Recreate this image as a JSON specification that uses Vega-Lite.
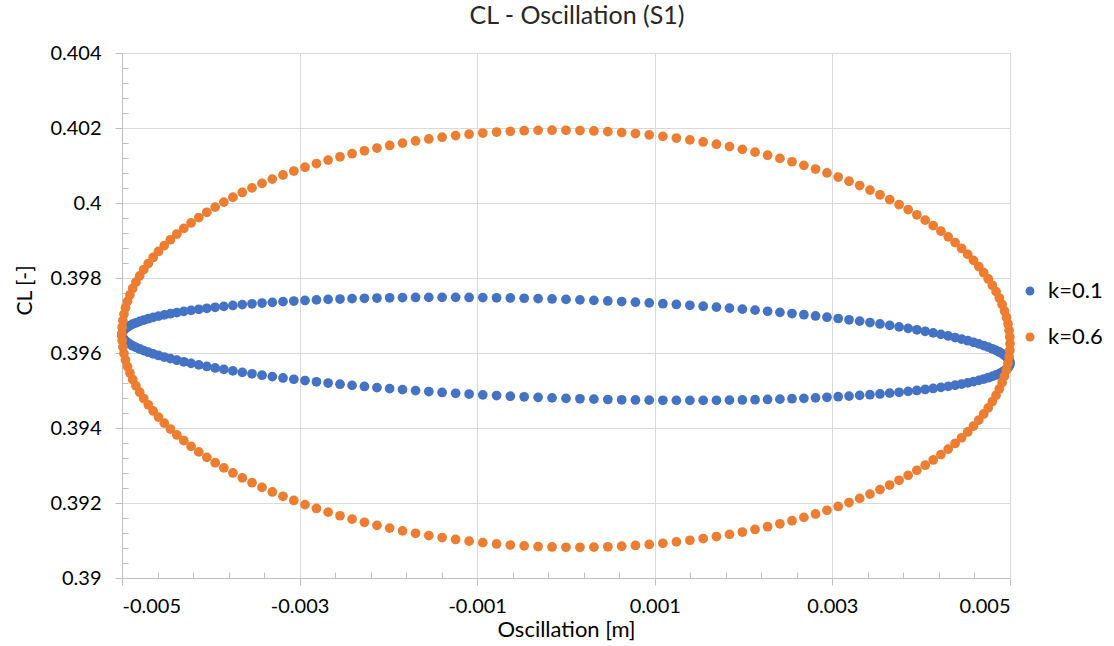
{
"$schema": "https://vega.github.io/schema/vega-lite/v6.json",
"width": 888, "height": 525,
"autosize": "none",
"padding": {"left": 122, "top": 53, "right": 104, "bottom": 68},
"background": "white",
"config": {"font": "Lato", "view": {"stroke": null}},
"title": {"text": "CL - Oscillation (S1)", "fontSize": 25, "fontWeight": "normal", "color": "#262626", "anchor": "middle", "offset": 14, "dx": 11},
"datasets": {
"minor": [{"x": -0.005, "y": 0.39}, {"x": 0.005, "y": 0.404}],
"pts": [
{"k":"k=0.1","x":0.005,"y":0.39573},{"k":"k=0.1","x":0.004998,"y":0.395771},{"k":"k=0.1","x":0.00499,"y":0.395814},{"k":"k=0.1","x":0.004978,"y":0.395856},{"k":"k=0.1","x":0.004961,"y":0.395898},{"k":"k=0.1","x":0.004938,"y":0.395941},{"k":"k=0.1","x":0.004911,"y":0.395984},{"k":"k=0.1","x":0.00488,"y":0.396027},{"k":"k=0.1","x":0.004843,"y":0.39607},{"k":"k=0.1","x":0.004801,"y":0.396113},{"k":"k=0.1","x":0.004755,"y":0.396157},{"k":"k=0.1","x":0.004704,"y":0.396199},{"k":"k=0.1","x":0.004649,"y":0.396243},{"k":"k=0.1","x":0.004589,"y":0.396285},{"k":"k=0.1","x":0.004524,"y":0.396328},{"k":"k=0.1","x":0.004455,"y":0.39637},{"k":"k=0.1","x":0.004382,"y":0.396413},{"k":"k=0.1","x":0.004304,"y":0.396455},{"k":"k=0.1","x":0.004222,"y":0.396496},{"k":"k=0.1","x":0.004135,"y":0.396538},{"k":"k=0.1","x":0.004045,"y":0.396579},{"k":"k=0.1","x":0.003951,"y":0.396619},{"k":"k=0.1","x":0.003853,"y":0.396658},{"k":"k=0.1","x":0.003751,"y":0.396698},{"k":"k=0.1","x":0.003645,"y":0.396737},{"k":"k=0.1","x":0.003536,"y":0.396774},{"k":"k=0.1","x":0.003423,"y":0.396812},{"k":"k=0.1","x":0.003307,"y":0.396849},{"k":"k=0.1","x":0.003187,"y":0.396885},{"k":"k=0.1","x":0.003065,"y":0.39692},{"k":"k=0.1","x":0.002939,"y":0.396955},{"k":"k=0.1","x":0.00281,"y":0.396988},{"k":"k=0.1","x":0.002679,"y":0.397021},{"k":"k=0.1","x":0.002545,"y":0.397053},{"k":"k=0.1","x":0.002409,"y":0.397084},{"k":"k=0.1","x":0.00227,"y":0.397113},{"k":"k=0.1","x":0.002129,"y":0.397142},{"k":"k=0.1","x":0.001986,"y":0.39717},{"k":"k=0.1","x":0.001841,"y":0.397197},{"k":"k=0.1","x":0.001694,"y":0.397223},{"k":"k=0.1","x":0.001545,"y":0.397248},{"k":"k=0.1","x":0.001395,"y":0.397272},{"k":"k=0.1","x":0.001243,"y":0.397294},{"k":"k=0.1","x":0.001091,"y":0.397315},{"k":"k=0.1","x":0.000937,"y":0.397336},{"k":"k=0.1","x":0.000782,"y":0.397355},{"k":"k=0.1","x":0.000627,"y":0.397372},{"k":"k=0.1","x":0.000471,"y":0.397388},{"k":"k=0.1","x":0.000314,"y":0.397403},{"k":"k=0.1","x":0.000157,"y":0.397417},{"k":"k=0.1","x":0,"y":0.39743},
{"k":"k=0.1","x":-0.000157,"y":0.397441},{"k":"k=0.1","x":-0.000314,"y":0.397451},{"k":"k=0.1","x":-0.000471,"y":0.39746},{"k":"k=0.1","x":-0.000627,"y":0.397468},{"k":"k=0.1","x":-0.000782,"y":0.397473},{"k":"k=0.1","x":-0.000937,"y":0.397478},{"k":"k=0.1","x":-0.001091,"y":0.397481},{"k":"k=0.1","x":-0.001243,"y":0.397484},{"k":"k=0.1","x":-0.001395,"y":0.397484},{"k":"k=0.1","x":-0.001545,"y":0.397482},{"k":"k=0.1","x":-0.001694,"y":0.397481},{"k":"k=0.1","x":-0.001841,"y":0.397477},{"k":"k=0.1","x":-0.001986,"y":0.397472},{"k":"k=0.1","x":-0.002129,"y":0.397466},{"k":"k=0.1","x":-0.00227,"y":0.397459},{"k":"k=0.1","x":-0.002409,"y":0.39745},{"k":"k=0.1","x":-0.002545,"y":0.397439},{"k":"k=0.1","x":-0.002679,"y":0.397429},{"k":"k=0.1","x":-0.00281,"y":0.397416},{"k":"k=0.1","x":-0.002939,"y":0.397401},{"k":"k=0.1","x":-0.003065,"y":0.397386},{"k":"k=0.1","x":-0.003187,"y":0.397369},{"k":"k=0.1","x":-0.003307,"y":0.397351},{"k":"k=0.1","x":-0.003423,"y":0.397332},{"k":"k=0.1","x":-0.003536,"y":0.397312},{"k":"k=0.1","x":-0.003645,"y":0.397291},{"k":"k=0.1","x":-0.003751,"y":0.397268},{"k":"k=0.1","x":-0.003853,"y":0.397244},{"k":"k=0.1","x":-0.003951,"y":0.397219},{"k":"k=0.1","x":-0.004045,"y":0.397193},{"k":"k=0.1","x":-0.004135,"y":0.397166},{"k":"k=0.1","x":-0.004222,"y":0.397138},{"k":"k=0.1","x":-0.004304,"y":0.397109},{"k":"k=0.1","x":-0.004382,"y":0.397079},{"k":"k=0.1","x":-0.004455,"y":0.397048},{"k":"k=0.1","x":-0.004524,"y":0.397016},{"k":"k=0.1","x":-0.004589,"y":0.396983},{"k":"k=0.1","x":-0.004649,"y":0.396949},{"k":"k=0.1","x":-0.004704,"y":0.396915},{"k":"k=0.1","x":-0.004755,"y":0.396879},{"k":"k=0.1","x":-0.004801,"y":0.396843},{"k":"k=0.1","x":-0.004843,"y":0.396806},{"k":"k=0.1","x":-0.00488,"y":0.396769},{"k":"k=0.1","x":-0.004911,"y":0.39673},{"k":"k=0.1","x":-0.004938,"y":0.396691},{"k":"k=0.1","x":-0.004961,"y":0.396652},{"k":"k=0.1","x":-0.004978,"y":0.396612},{"k":"k=0.1","x":-0.00499,"y":0.396572},{"k":"k=0.1","x":-0.004998,"y":0.396531},{"k":"k=0.1","x":-0.005,"y":0.39649},
{"k":"k=0.1","x":-0.004998,"y":0.396449},{"k":"k=0.1","x":-0.00499,"y":0.396406},{"k":"k=0.1","x":-0.004978,"y":0.396364},{"k":"k=0.1","x":-0.004961,"y":0.396322},{"k":"k=0.1","x":-0.004938,"y":0.396279},{"k":"k=0.1","x":-0.004911,"y":0.396236},{"k":"k=0.1","x":-0.00488,"y":0.396193},{"k":"k=0.1","x":-0.004843,"y":0.39615},{"k":"k=0.1","x":-0.004801,"y":0.396107},{"k":"k=0.1","x":-0.004755,"y":0.396063},{"k":"k=0.1","x":-0.004704,"y":0.396021},{"k":"k=0.1","x":-0.004649,"y":0.395977},{"k":"k=0.1","x":-0.004589,"y":0.395935},{"k":"k=0.1","x":-0.004524,"y":0.395892},{"k":"k=0.1","x":-0.004455,"y":0.39585},{"k":"k=0.1","x":-0.004382,"y":0.395807},{"k":"k=0.1","x":-0.004304,"y":0.395765},{"k":"k=0.1","x":-0.004222,"y":0.395724},{"k":"k=0.1","x":-0.004135,"y":0.395682},{"k":"k=0.1","x":-0.004045,"y":0.395641},{"k":"k=0.1","x":-0.003951,"y":0.395601},{"k":"k=0.1","x":-0.003853,"y":0.395562},{"k":"k=0.1","x":-0.003751,"y":0.395522},{"k":"k=0.1","x":-0.003645,"y":0.395483},{"k":"k=0.1","x":-0.003536,"y":0.395446},{"k":"k=0.1","x":-0.003423,"y":0.395408},{"k":"k=0.1","x":-0.003307,"y":0.395371},{"k":"k=0.1","x":-0.003187,"y":0.395335},{"k":"k=0.1","x":-0.003065,"y":0.3953},{"k":"k=0.1","x":-0.002939,"y":0.395265},{"k":"k=0.1","x":-0.00281,"y":0.395232},{"k":"k=0.1","x":-0.002679,"y":0.395199},{"k":"k=0.1","x":-0.002545,"y":0.395167},{"k":"k=0.1","x":-0.002409,"y":0.395136},{"k":"k=0.1","x":-0.00227,"y":0.395107},{"k":"k=0.1","x":-0.002129,"y":0.395078},{"k":"k=0.1","x":-0.001986,"y":0.39505},{"k":"k=0.1","x":-0.001841,"y":0.395023},{"k":"k=0.1","x":-0.001694,"y":0.394997},{"k":"k=0.1","x":-0.001545,"y":0.394972},{"k":"k=0.1","x":-0.001395,"y":0.394948},{"k":"k=0.1","x":-0.001243,"y":0.394926},{"k":"k=0.1","x":-0.001091,"y":0.394905},{"k":"k=0.1","x":-0.000937,"y":0.394884},{"k":"k=0.1","x":-0.000782,"y":0.394865},{"k":"k=0.1","x":-0.000627,"y":0.394848},{"k":"k=0.1","x":-0.000471,"y":0.394832},{"k":"k=0.1","x":-0.000314,"y":0.394817},{"k":"k=0.1","x":-0.000157,"y":0.394803},{"k":"k=0.1","x":0,"y":0.39479},
{"k":"k=0.1","x":0.000157,"y":0.394779},{"k":"k=0.1","x":0.000314,"y":0.394769},{"k":"k=0.1","x":0.000471,"y":0.39476},{"k":"k=0.1","x":0.000627,"y":0.394752},{"k":"k=0.1","x":0.000782,"y":0.394747},{"k":"k=0.1","x":0.000937,"y":0.394742},{"k":"k=0.1","x":0.001091,"y":0.394739},{"k":"k=0.1","x":0.001243,"y":0.394736},{"k":"k=0.1","x":0.001395,"y":0.394736},{"k":"k=0.1","x":0.001545,"y":0.394738},{"k":"k=0.1","x":0.001694,"y":0.394739},{"k":"k=0.1","x":0.001841,"y":0.394743},{"k":"k=0.1","x":0.001986,"y":0.394748},{"k":"k=0.1","x":0.002129,"y":0.394754},{"k":"k=0.1","x":0.00227,"y":0.394761},{"k":"k=0.1","x":0.002409,"y":0.39477},{"k":"k=0.1","x":0.002545,"y":0.394781},{"k":"k=0.1","x":0.002679,"y":0.394791},{"k":"k=0.1","x":0.00281,"y":0.394804},{"k":"k=0.1","x":0.002939,"y":0.394819},{"k":"k=0.1","x":0.003065,"y":0.394834},{"k":"k=0.1","x":0.003187,"y":0.394851},{"k":"k=0.1","x":0.003307,"y":0.394869},{"k":"k=0.1","x":0.003423,"y":0.394888},{"k":"k=0.1","x":0.003536,"y":0.394908},{"k":"k=0.1","x":0.003645,"y":0.394929},{"k":"k=0.1","x":0.003751,"y":0.394952},{"k":"k=0.1","x":0.003853,"y":0.394976},{"k":"k=0.1","x":0.003951,"y":0.395001},{"k":"k=0.1","x":0.004045,"y":0.395027},{"k":"k=0.1","x":0.004135,"y":0.395054},{"k":"k=0.1","x":0.004222,"y":0.395082},{"k":"k=0.1","x":0.004304,"y":0.395111},{"k":"k=0.1","x":0.004382,"y":0.395141},{"k":"k=0.1","x":0.004455,"y":0.395172},{"k":"k=0.1","x":0.004524,"y":0.395204},{"k":"k=0.1","x":0.004589,"y":0.395237},{"k":"k=0.1","x":0.004649,"y":0.395271},{"k":"k=0.1","x":0.004704,"y":0.395305},{"k":"k=0.1","x":0.004755,"y":0.395341},{"k":"k=0.1","x":0.004801,"y":0.395377},{"k":"k=0.1","x":0.004843,"y":0.395414},{"k":"k=0.1","x":0.00488,"y":0.395451},{"k":"k=0.1","x":0.004911,"y":0.39549},{"k":"k=0.1","x":0.004938,"y":0.395529},{"k":"k=0.1","x":0.004961,"y":0.395568},{"k":"k=0.1","x":0.004978,"y":0.395608},{"k":"k=0.1","x":0.00499,"y":0.395648},{"k":"k=0.1","x":0.004998,"y":0.395689},
{"k":"k=0.6","x":0.005,"y":0.39625},{"k":"k=0.6","x":0.004998,"y":0.396425},{"k":"k=0.6","x":0.00499,"y":0.396599},{"k":"k=0.6","x":0.004978,"y":0.396774},{"k":"k=0.6","x":0.004961,"y":0.396948},{"k":"k=0.6","x":0.004938,"y":0.397122},{"k":"k=0.6","x":0.004911,"y":0.397294},{"k":"k=0.6","x":0.00488,"y":0.397466},{"k":"k=0.6","x":0.004843,"y":0.397637},{"k":"k=0.6","x":0.004801,"y":0.397806},{"k":"k=0.6","x":0.004755,"y":0.397974},{"k":"k=0.6","x":0.004704,"y":0.398141},{"k":"k=0.6","x":0.004649,"y":0.398306},{"k":"k=0.6","x":0.004589,"y":0.398469},{"k":"k=0.6","x":0.004524,"y":0.398629},{"k":"k=0.6","x":0.004455,"y":0.398788},{"k":"k=0.6","x":0.004382,"y":0.398945},{"k":"k=0.6","x":0.004304,"y":0.399098},{"k":"k=0.6","x":0.004222,"y":0.399249},{"k":"k=0.6","x":0.004135,"y":0.399397},{"k":"k=0.6","x":0.004045,"y":0.399543},{"k":"k=0.6","x":0.003951,"y":0.399685},{"k":"k=0.6","x":0.003853,"y":0.399824},{"k":"k=0.6","x":0.003751,"y":0.399959},{"k":"k=0.6","x":0.003645,"y":0.400091},{"k":"k=0.6","x":0.003536,"y":0.400219},{"k":"k=0.6","x":0.003423,"y":0.400344},{"k":"k=0.6","x":0.003307,"y":0.400465},{"k":"k=0.6","x":0.003187,"y":0.400581},{"k":"k=0.6","x":0.003065,"y":0.400693},{"k":"k=0.6","x":0.002939,"y":0.400802},{"k":"k=0.6","x":0.00281,"y":0.400906},{"k":"k=0.6","x":0.002679,"y":0.401004},{"k":"k=0.6","x":0.002545,"y":0.4011},{"k":"k=0.6","x":0.002409,"y":0.401189},{"k":"k=0.6","x":0.00227,"y":0.401275},{"k":"k=0.6","x":0.002129,"y":0.401356},{"k":"k=0.6","x":0.001986,"y":0.401431},{"k":"k=0.6","x":0.001841,"y":0.401502},{"k":"k=0.6","x":0.001694,"y":0.401567},{"k":"k=0.6","x":0.001545,"y":0.401628},{"k":"k=0.6","x":0.001395,"y":0.401683},{"k":"k=0.6","x":0.001243,"y":0.401733},{"k":"k=0.6","x":0.001091,"y":0.401778},{"k":"k=0.6","x":0.000937,"y":0.401818},{"k":"k=0.6","x":0.000782,"y":0.401852},{"k":"k=0.6","x":0.000627,"y":0.40188},{"k":"k=0.6","x":0.000471,"y":0.401903},{"k":"k=0.6","x":0.000314,"y":0.401921},{"k":"k=0.6","x":0.000157,"y":0.401933},{"k":"k=0.6","x":0,"y":0.40194},
{"k":"k=0.6","x":-0.000157,"y":0.401941},{"k":"k=0.6","x":-0.000314,"y":0.401937},{"k":"k=0.6","x":-0.000471,"y":0.401927},{"k":"k=0.6","x":-0.000627,"y":0.401912},{"k":"k=0.6","x":-0.000782,"y":0.401892},{"k":"k=0.6","x":-0.000937,"y":0.401866},{"k":"k=0.6","x":-0.001091,"y":0.401834},{"k":"k=0.6","x":-0.001243,"y":0.401797},{"k":"k=0.6","x":-0.001395,"y":0.401755},{"k":"k=0.6","x":-0.001545,"y":0.401708},{"k":"k=0.6","x":-0.001694,"y":0.401655},{"k":"k=0.6","x":-0.001841,"y":0.401598},{"k":"k=0.6","x":-0.001986,"y":0.401535},{"k":"k=0.6","x":-0.002129,"y":0.401466},{"k":"k=0.6","x":-0.00227,"y":0.401393},{"k":"k=0.6","x":-0.002409,"y":0.401315},{"k":"k=0.6","x":-0.002545,"y":0.401232},{"k":"k=0.6","x":-0.002679,"y":0.401144},{"k":"k=0.6","x":-0.00281,"y":0.401052},{"k":"k=0.6","x":-0.002939,"y":0.400954},{"k":"k=0.6","x":-0.003065,"y":0.400853},{"k":"k=0.6","x":-0.003187,"y":0.400747},{"k":"k=0.6","x":-0.003307,"y":0.400637},{"k":"k=0.6","x":-0.003423,"y":0.400522},{"k":"k=0.6","x":-0.003536,"y":0.400403},{"k":"k=0.6","x":-0.003645,"y":0.400281},{"k":"k=0.6","x":-0.003751,"y":0.400155},{"k":"k=0.6","x":-0.003853,"y":0.400024},{"k":"k=0.6","x":-0.003951,"y":0.399891},{"k":"k=0.6","x":-0.004045,"y":0.399753},{"k":"k=0.6","x":-0.004135,"y":0.399613},{"k":"k=0.6","x":-0.004222,"y":0.399469},{"k":"k=0.6","x":-0.004304,"y":0.399322},{"k":"k=0.6","x":-0.004382,"y":0.399173},{"k":"k=0.6","x":-0.004455,"y":0.39902},{"k":"k=0.6","x":-0.004524,"y":0.398865},{"k":"k=0.6","x":-0.004589,"y":0.398707},{"k":"k=0.6","x":-0.004649,"y":0.398548},{"k":"k=0.6","x":-0.004704,"y":0.398385},{"k":"k=0.6","x":-0.004755,"y":0.398222},{"k":"k=0.6","x":-0.004801,"y":0.398056},{"k":"k=0.6","x":-0.004843,"y":0.397889},{"k":"k=0.6","x":-0.00488,"y":0.39772},{"k":"k=0.6","x":-0.004911,"y":0.39755},{"k":"k=0.6","x":-0.004938,"y":0.397378},{"k":"k=0.6","x":-0.004961,"y":0.397206},{"k":"k=0.6","x":-0.004978,"y":0.397032},{"k":"k=0.6","x":-0.00499,"y":0.396859},{"k":"k=0.6","x":-0.004998,"y":0.396685},{"k":"k=0.6","x":-0.005,"y":0.39651},
{"k":"k=0.6","x":-0.004998,"y":0.396335},{"k":"k=0.6","x":-0.00499,"y":0.396161},{"k":"k=0.6","x":-0.004978,"y":0.395986},{"k":"k=0.6","x":-0.004961,"y":0.395812},{"k":"k=0.6","x":-0.004938,"y":0.395638},{"k":"k=0.6","x":-0.004911,"y":0.395466},{"k":"k=0.6","x":-0.00488,"y":0.395294},{"k":"k=0.6","x":-0.004843,"y":0.395123},{"k":"k=0.6","x":-0.004801,"y":0.394954},{"k":"k=0.6","x":-0.004755,"y":0.394786},{"k":"k=0.6","x":-0.004704,"y":0.394619},{"k":"k=0.6","x":-0.004649,"y":0.394454},{"k":"k=0.6","x":-0.004589,"y":0.394291},{"k":"k=0.6","x":-0.004524,"y":0.394131},{"k":"k=0.6","x":-0.004455,"y":0.393972},{"k":"k=0.6","x":-0.004382,"y":0.393815},{"k":"k=0.6","x":-0.004304,"y":0.393662},{"k":"k=0.6","x":-0.004222,"y":0.393511},{"k":"k=0.6","x":-0.004135,"y":0.393363},{"k":"k=0.6","x":-0.004045,"y":0.393217},{"k":"k=0.6","x":-0.003951,"y":0.393075},{"k":"k=0.6","x":-0.003853,"y":0.392936},{"k":"k=0.6","x":-0.003751,"y":0.392801},{"k":"k=0.6","x":-0.003645,"y":0.392669},{"k":"k=0.6","x":-0.003536,"y":0.392541},{"k":"k=0.6","x":-0.003423,"y":0.392416},{"k":"k=0.6","x":-0.003307,"y":0.392295},{"k":"k=0.6","x":-0.003187,"y":0.392179},{"k":"k=0.6","x":-0.003065,"y":0.392067},{"k":"k=0.6","x":-0.002939,"y":0.391958},{"k":"k=0.6","x":-0.00281,"y":0.391854},{"k":"k=0.6","x":-0.002679,"y":0.391756},{"k":"k=0.6","x":-0.002545,"y":0.39166},{"k":"k=0.6","x":-0.002409,"y":0.391571},{"k":"k=0.6","x":-0.00227,"y":0.391485},{"k":"k=0.6","x":-0.002129,"y":0.391404},{"k":"k=0.6","x":-0.001986,"y":0.391329},{"k":"k=0.6","x":-0.001841,"y":0.391258},{"k":"k=0.6","x":-0.001694,"y":0.391193},{"k":"k=0.6","x":-0.001545,"y":0.391132},{"k":"k=0.6","x":-0.001395,"y":0.391077},{"k":"k=0.6","x":-0.001243,"y":0.391027},{"k":"k=0.6","x":-0.001091,"y":0.390982},{"k":"k=0.6","x":-0.000937,"y":0.390942},{"k":"k=0.6","x":-0.000782,"y":0.390908},{"k":"k=0.6","x":-0.000627,"y":0.39088},{"k":"k=0.6","x":-0.000471,"y":0.390857},{"k":"k=0.6","x":-0.000314,"y":0.390839},{"k":"k=0.6","x":-0.000157,"y":0.390827},{"k":"k=0.6","x":0,"y":0.39082},
{"k":"k=0.6","x":0.000157,"y":0.390819},{"k":"k=0.6","x":0.000314,"y":0.390823},{"k":"k=0.6","x":0.000471,"y":0.390833},{"k":"k=0.6","x":0.000627,"y":0.390848},{"k":"k=0.6","x":0.000782,"y":0.390868},{"k":"k=0.6","x":0.000937,"y":0.390894},{"k":"k=0.6","x":0.001091,"y":0.390926},{"k":"k=0.6","x":0.001243,"y":0.390963},{"k":"k=0.6","x":0.001395,"y":0.391005},{"k":"k=0.6","x":0.001545,"y":0.391052},{"k":"k=0.6","x":0.001694,"y":0.391105},{"k":"k=0.6","x":0.001841,"y":0.391162},{"k":"k=0.6","x":0.001986,"y":0.391225},{"k":"k=0.6","x":0.002129,"y":0.391294},{"k":"k=0.6","x":0.00227,"y":0.391367},{"k":"k=0.6","x":0.002409,"y":0.391445},{"k":"k=0.6","x":0.002545,"y":0.391528},{"k":"k=0.6","x":0.002679,"y":0.391616},{"k":"k=0.6","x":0.00281,"y":0.391708},{"k":"k=0.6","x":0.002939,"y":0.391806},{"k":"k=0.6","x":0.003065,"y":0.391907},{"k":"k=0.6","x":0.003187,"y":0.392013},{"k":"k=0.6","x":0.003307,"y":0.392123},{"k":"k=0.6","x":0.003423,"y":0.392238},{"k":"k=0.6","x":0.003536,"y":0.392357},{"k":"k=0.6","x":0.003645,"y":0.392479},{"k":"k=0.6","x":0.003751,"y":0.392605},{"k":"k=0.6","x":0.003853,"y":0.392736},{"k":"k=0.6","x":0.003951,"y":0.392869},{"k":"k=0.6","x":0.004045,"y":0.393007},{"k":"k=0.6","x":0.004135,"y":0.393147},{"k":"k=0.6","x":0.004222,"y":0.393291},{"k":"k=0.6","x":0.004304,"y":0.393438},{"k":"k=0.6","x":0.004382,"y":0.393587},{"k":"k=0.6","x":0.004455,"y":0.39374},{"k":"k=0.6","x":0.004524,"y":0.393895},{"k":"k=0.6","x":0.004589,"y":0.394053},{"k":"k=0.6","x":0.004649,"y":0.394212},{"k":"k=0.6","x":0.004704,"y":0.394375},{"k":"k=0.6","x":0.004755,"y":0.394538},{"k":"k=0.6","x":0.004801,"y":0.394704},{"k":"k=0.6","x":0.004843,"y":0.394871},{"k":"k=0.6","x":0.00488,"y":0.39504},{"k":"k=0.6","x":0.004911,"y":0.39521},{"k":"k=0.6","x":0.004938,"y":0.395382},{"k":"k=0.6","x":0.004961,"y":0.395554},{"k":"k=0.6","x":0.004978,"y":0.395728},{"k":"k=0.6","x":0.00499,"y":0.395901},{"k":"k=0.6","x":0.004998,"y":0.396075}
]
},
"layer": [
{
"data": {"name": "minor"},
"mark": {"type": "point", "opacity": 0},
"encoding": {
"x": {"field": "x", "type": "quantitative", "scale": {"domain": [-0.005, 0.005], "nice": false, "zero": false},
"axis": {"orient": "bottom", "values": [-0.0046,-0.0042,-0.0038,-0.0034,-0.0026,-0.0022,-0.0018,-0.0014,-0.0006,-0.0002,0.0002,0.0006,0.0014,0.0018,0.0022,0.0026,0.0034,0.0038,0.0042,0.0046], "labels": false, "domain": false, "grid": false, "title": null, "tickSize": -6, "tickColor": "#bfbfbf", "tickWidth": 1}},
"y": {"field": "y", "type": "quantitative", "scale": {"domain": [0.39, 0.404], "nice": false, "zero": false},
"axis": {"orient": "left", "values": [0.3904,0.3908,0.3912,0.3916,0.3924,0.3928,0.3932,0.3936,0.3944,0.3948,0.3952,0.3956,0.3964,0.3968,0.3972,0.3976,0.3984,0.3988,0.3992,0.3996,0.4004,0.4008,0.4012,0.4016,0.4024,0.4028,0.4032,0.4036], "labels": false, "domain": false, "grid": false, "title": null, "tickSize": -6, "tickColor": "#bfbfbf", "tickWidth": 1}}
}
},
{
"data": {"name": "pts"},
"mark": {"type": "point", "filled": true, "size": 95, "opacity": 1, "shape": "circle"},
"encoding": {
"x": {"field": "x", "type": "quantitative", "scale": {"domain": [-0.005, 0.005], "nice": false, "zero": false},
"axis": {"orient": "bottom", "values": [-0.005,-0.003,-0.001,0.001,0.003,0.005], "labelExpr": "replace(format(datum.value, '.3f'), '\u2212', '-')", "labelFontSize": 20, "labelColor": "#000000", "labelPadding": 11, "tickSize": 7, "tickColor": "#bfbfbf", "domainColor": "#bfbfbf", "gridColor": "#d9d9d9", "grid": true, "title": "Oscillation [m]", "titleFontSize": 22, "titleFontWeight": "normal", "titleColor": "#000000", "titlePadding": 3}},
"y": {"field": "y", "type": "quantitative", "scale": {"domain": [0.39, 0.404], "nice": false, "zero": false},
"axis": {"orient": "left", "values": [0.39,0.392,0.394,0.396,0.398,0.4,0.402,0.404], "format": ".3~f", "labelFontSize": 20, "labelColor": "#000000", "labelPadding": 14, "tickSize": 7, "tickColor": "#bfbfbf", "domainColor": "#bfbfbf", "gridColor": "#d9d9d9", "grid": true, "title": "CL [-]", "titleFontSize": 21, "titleFontWeight": "normal", "titleColor": "#000000", "titlePadding": 14, "titleY": 237}},
"color": {"field": "k", "type": "nominal", "scale": {"domain": ["k=0.1", "k=0.6"], "range": ["#4472C4", "#ED7D31"]},
"legend": {"title": null, "orient": "none", "legendX": 897, "legendY": 227, "labelFontSize": 22, "labelColor": "#000000", "labelOffset": 7, "symbolType": "circle", "symbolSize": 80, "rowPadding": 24}}
}
}
],
"resolve": {"axis": {"x": "independent", "y": "independent"}}
}
